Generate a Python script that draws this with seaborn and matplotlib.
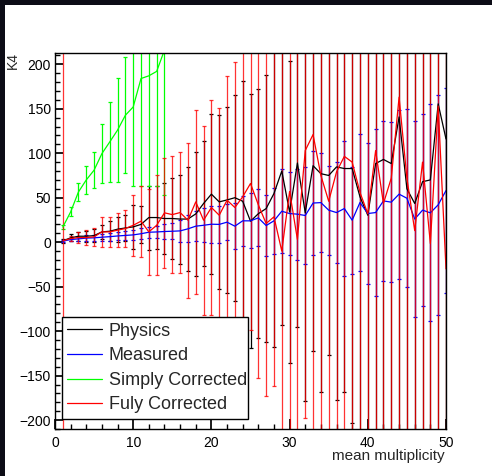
import matplotlib
matplotlib.use("Agg")
import matplotlib.pyplot as plt
from matplotlib.lines import Line2D
from matplotlib.patches import Rectangle
from matplotlib.ticker import MultipleLocator
import seaborn as sns
import pandas as pd
import numpy as np

# mean multiplicity bins
mult = list(range(1, 51))

physics = [1.5, 4.9, 6.7, 6.7, 7.4, 11.6, 12.3, 14.6, 16, 17.2,
           20, 27.7, 27.7, 26.6, 26.6, 26, 26, 31.8, 43.5, 54,
           45.3, 47.5, 50, 46, 23.6, 32, 37.8, 54.7, 80, 34,
           89, 33, 86, 77, 75, 84.6, 82.8, 82.8, 51, 30.3,
           88.4, 93, 88.4, 140.8, 60, 43.5, 68, 70, 155.5, 116]
physics_err = [2, 4, 5, 6, 7, 8, 11, 14, 15, 25,
               21, 36, 35, 40, 46, 50, 58, 70, 70, 90,
               98, 105, 116, 135, 143, 140, 150, 172, 173, 170,
               184, 212, 208, 245, 202, 262, 251, 286, 320, 340,
               330, 360, 350, 380, 300, 360, 340, 380, 400, 420]

measured = [1.1, 3, 3.7, 4.6, 4.9, 5.6, 6.2, 7, 7.6, 8.2,
            9.5, 11.2, 11.5, 12, 12.3, 12.7, 15, 18, 19, 20.2,
            20, 22.5, 18, 24, 24, 27.3, 18.7, 24, 34.8, 32.2,
            31.5, 30, 44, 44.5, 36, 33.3, 37.8, 24.7, 44.6, 32.2,
            33.3, 46.4, 45, 54, 49.4, 26, 36, 33, 42, 58]
measured_err = [1, 2, 2.5, 3, 3.5, 4, 4.5, 5, 5.5, 6,
                6, 6, 7, 8, 9, 12, 15, 17, 19, 21,
                21, 20, 26, 28, 31, 32, 34, 37, 47, 47,
                51, 55, 58, 56, 50, 57, 76, 60, 77, 79,
                94, 90, 90, 95, 100, 110, 108, 122, 124, 115]

simply = [17, 34, 56.5, 70, 81, 99.6, 112.7, 126, 142.7, 152,
          184, 187, 192, 216, 600]
simply_err = [2, 5, 10, 16, 20, 33, 45, 58, 65, 89,
              121, 124, 129, 163, 300]

fuly = [1.5, 4.1, 5.2, 5.2, 6, 11.6, 11.6, 13.5, 15.4, 19,
        23.6, 11.6, 19, 33, 31, 33.3, 24.7, 45.3, 24.7, 39,
        30.3, 47.2, 39, 51, 66, 42, 21, 28.5, -10, 57,
        3, 103, 121, 75, 46, 79, 96.5, 90, 56, 32,
        103, 43.5, 72, 163, 72, 13, 90, -1.5, 153, -30]
fuly_err = [500, 3, 6, 8, 10, 17, 17, 19, 21, 34,
            40, 48, 56, 62, 66, 68, 87, 103, 106, 121,
            120, 140, 163, 185, 165, 195, 194, 190, 300, 350,
            300, 301, 420, 380, 450, 400, 390, 430, 410, 400,
            420, 380, 450, 400, 420, 390, 410, 430, 400, 420]

labels = ["Physics", "Measured", "Simply Corrected", "Fuly Corrected"]
colors = ["black", "#0000ff", "#00ff00", "#ff0000"]

df = pd.concat([
    pd.DataFrame({"mult": mult, "K4": physics, "err": physics_err, "series": labels[0]}),
    pd.DataFrame({"mult": mult, "K4": measured, "err": measured_err, "series": labels[1]}),
    pd.DataFrame({"mult": mult[:len(simply)], "K4": simply, "err": simply_err, "series": labels[2]}),
    pd.DataFrame({"mult": mult, "K4": fuly, "err": fuly_err, "series": labels[3]}),
], ignore_index=True)

sns.set_theme(style="ticks")
plt.rcParams["font.family"] = ["Liberation Sans", "DejaVu Sans"]
plt.rcParams["axes.unicode_minus"] = True

fig = plt.figure(figsize=(4.92, 4.76), dpi=100, facecolor="#0c0c16")
fig.add_artist(Rectangle((5 / 492, 0), 1, 1 - 5 / 476, transform=fig.transFigure,
                         facecolor="white", edgecolor="none", zorder=-1))
ax = fig.add_axes([55 / 492, 1 - 429 / 476, 391 / 492, 376.3 / 476])

# error bars (red drawn last, slightly transparent so overlaps mix like the original)
alphas = [1.0, 1.0, 1.0, 0.8]
for lab, col, a in zip(labels, colors, alphas):
    sub = df[df["series"] == lab]
    ax.errorbar(sub["mult"], sub["K4"], yerr=sub["err"], fmt="none",
                ecolor=col, elinewidth=0.9, capsize=1.6, capthick=0.9, alpha=a)

sns.lineplot(data=df, x="mult", y="K4", hue="series", hue_order=labels,
             palette=colors, sort=False, linewidth=0.9, legend=False, ax=ax,
             estimator=None)

ax.set_xlim(0, 50)
ax.set_ylim(-210, 213)
ax.set_xlabel("")
ax.set_ylabel("")
ax.xaxis.set_major_locator(MultipleLocator(10))
ax.xaxis.set_minor_locator(MultipleLocator(2))
ax.yaxis.set_major_locator(MultipleLocator(50))
ax.yaxis.set_minor_locator(MultipleLocator(10))
ax.tick_params(which="both", direction="in", labelsize=10, colors="black",
               top=False, right=False)
ax.tick_params(axis="x", which="major", length=7, pad=5)
ax.tick_params(axis="x", which="minor", length=3.5)
ax.tick_params(axis="y", which="major", length=6, pad=3)
ax.tick_params(axis="y", which="minor", length=3.5)
for s in ax.spines.values():
    s.set_color("black")
    s.set_linewidth(1.0)

fig.text(445 / 492, 1 - 456 / 476, "mean multiplicity", ha="right", va="center",
         fontsize=11)
fig.text(13 / 492, 1 - 52 / 476, "K4", rotation=90, ha="center", va="top",
         fontsize=10)

handles = [Line2D([0], [0], color=c, lw=0.9) for c in colors]
leg = ax.legend(handles, labels, loc="lower left",
                bbox_to_anchor=(0.018, 0.027, 0.476, 0.265), mode="expand",
                fontsize=13, frameon=True, fancybox=False, framealpha=1,
                edgecolor="black", borderpad=0.3, labelspacing=0.42,
                handlelength=1.9, handletextpad=0.4, borderaxespad=0)
leg.get_frame().set_linewidth(1.0)

fig.savefig("out.png", dpi=100, facecolor=fig.get_facecolor())
